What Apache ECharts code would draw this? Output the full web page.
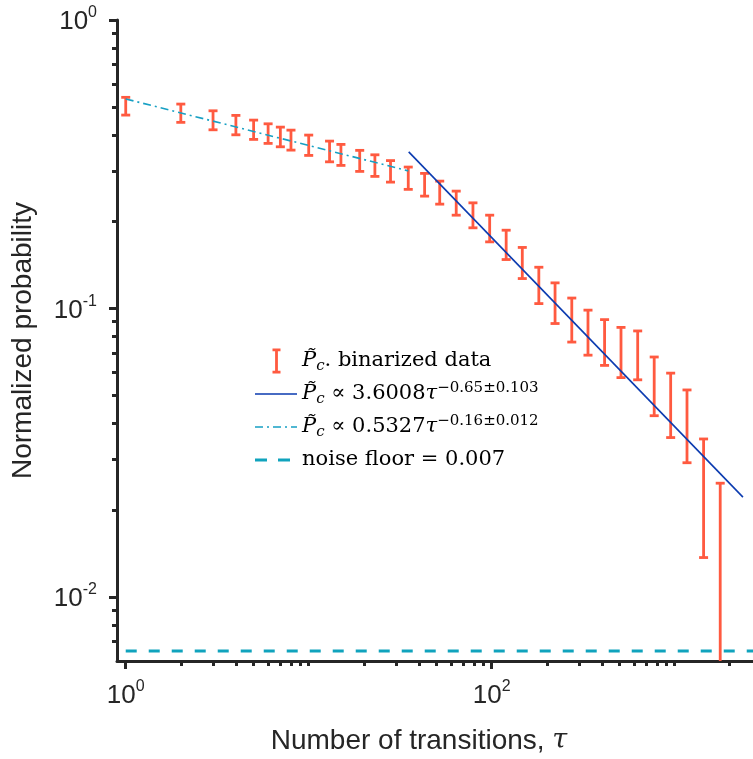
<!DOCTYPE html>
<html>
<head>
<meta charset="utf-8">
<script src="https://cdn.jsdelivr.net/npm/echarts@6/dist/echarts.min.js"></script>
<style>
html, body { margin: 0; padding: 0; background: #fff; }
#chart1 { width: 753px; height: 759px; }
</style>
</head>
<body>
<div id="chart1"></div>
<script>
/* 对数坐标误差棒图 */

// binarized data: tau, value, half error bar
var tau = [1, 2, 3, 4, 5, 6, 7, 8, 10, 13, 15, 19, 23, 28, 35, 43, 52, 64, 79, 97.5,
    120, 147, 181, 222, 274, 336, 414, 509, 628, 773, 951, 1168, 1439, 1774];
var probValue = [0.5038, 0.4765, 0.4504, 0.4335, 0.4177, 0.4051, 0.3944, 0.3846, 0.3692, 0.3514,
    0.3419, 0.3260, 0.3140, 0.2999, 0.2840, 0.2696, 0.2532, 0.2329, 0.2114, 0.1904,
    0.1673, 0.1449, 0.1215, 0.1057, 0.0926, 0.0838, 0.0775, 0.0718, 0.0701, 0.0552,
    0.0477, 0.0407, 0.0245, 0.0139];
var probErr = [0.0356, 0.0347, 0.0341, 0.0335, 0.0321, 0.0316, 0.0309, 0.0306, 0.0299, 0.0290,
    0.0286, 0.0273, 0.0270, 0.0257, 0.0252, 0.0244, 0.0232, 0.0223, 0.0210, 0.0202,
    0.0195, 0.0179, 0.0175, 0.0170, 0.0161, 0.0149, 0.0140, 0.0142, 0.0135, 0.0127,
    0.0120, 0.0115, 0.0108, 0.0109];

// fitted lines (end points) and noise floor
var fitSteep = [[35.2, 0.349], [2361, 0.0222]];
var fitFlat = [[1, 0.5327], [35, 0.300]];
var noiseFloor = [[1, 0.0065], [2680, 0.0065]];

var xMin = 0.896, xMax = 2680;
var yMin = 0.006, yMax = 1;
var xMajor = [1, 100];
var yMajor = [0.01, 0.1, 1];

var xMinor = [], yMinor = [];
for (var p = 0; p <= 3; p++) {
    for (var k = 1; k <= 9; k++) {
        var v = k * Math.pow(10, p);
        if (xMajor.indexOf(v) < 0 && v > xMin && v < xMax) xMinor.push(v);
    }
}
for (var q = -3; q < 0; q++) {
    for (var j = 2; j <= 9; j++) {
        var w = +(j * Math.pow(10, q)).toFixed(6);
        if (w > yMin && w < yMax) yMinor.push(w);
    }
}

var red = '#ff5a40';
var blue = '#0b3bb0';
var cyan = '#17a0c4';
var teal = '#10a3bd';
var axisColor = '#262626';
var sansFont = 'Liberation Sans';
var serifFont = 'DejaVu Serif';

var errData = [];
for (var i = 0; i < tau.length; i++) {
    errData.push([tau[i], probValue[i] - probErr[i], probValue[i] + probErr[i]]);
}

function powLabel(val) {
    var e = Math.round(Math.log(val) / Math.LN10);
    return '{b|10}{s|' + e + '}';
}
var powRich = {
    b: { fontFamily: sansFont, fontSize: 26, lineHeight: 30, verticalAlign: 'bottom', color: axisColor },
    s: { fontFamily: sansFont, fontSize: 16, lineHeight: 16, verticalAlign: 'top', color: axisColor }
};

// legend icons, 42x26 box (corner dots keep the box size)
var box = 'M0,0h0.1v0.1h-0.1z M42,26h-0.1v-0.1h0.1z ';
var iconErr = 'path://' + box + 'M17.5,0.5h8v2.8h-2.6v19.4h2.6v2.8h-8v-2.8h2.6v-19.4h-2.6z';
var iconSolid = 'path://' + box + 'M0,12.2h42v1.6h-42z';
var iconDashDot = 'path://' + box + 'M0,12.2h8v1.6h-8z M12,12.2h2v1.6h-2z M18,12.2h8v1.6h-8z M30,12.2h2v1.6h-2z M36,12.2h6v1.6h-6z';
var iconDash = 'path://' + box + 'M0,11.5h12v3h-12z M23,11.5h12v3h-12z';

var legendNames = {
    'data': '{it|P\u0303}{sub|c}{n|. binarized data}',
    'fitSteep': '{it|P\u0303}{sub|c}{n| \u221d 3.6008}{it|\u03c4}{sup|\u22120.65\u00b10.103}',
    'fitFlat': '{it|P\u0303}{sub|c}{n| \u221d 0.5327}{it|\u03c4}{sup|\u22120.16\u00b10.012}',
    'noise': '{n|noise floor = 0.007}'
};

var chart = echarts.init(document.getElementById('chart1'));

var option = {
    animation: false,
    backgroundColor: '#fff',
    grid: { left: 117, right: 0, top: 20, bottom: 98, containLabel: false, outerBoundsMode: 'none' },
    legend: {
        orient: 'vertical',
        left: 250,
        top: 343,
        itemWidth: 42,
        itemHeight: 26,
        itemGap: 7,
        selectedMode: false,
        data: [
            { name: 'data', icon: iconErr, itemStyle: { color: red } },
            { name: 'fitSteep', icon: iconSolid, itemStyle: { color: blue } },
            { name: 'fitFlat', icon: iconDashDot, itemStyle: { color: cyan } },
            { name: 'noise', icon: iconDash, itemStyle: { color: teal } }
        ],
        formatter: function (name) { return legendNames[name]; },
        textStyle: {
            fontFamily: serifFont, fontSize: 21, color: '#000',
            rich: {
                n: { fontFamily: serifFont, fontSize: 21, lineHeight: 26, color: '#000' },
                it: { fontFamily: serifFont, fontStyle: 'italic', fontSize: 21, lineHeight: 26, color: '#000' },
                sub: { fontFamily: serifFont, fontStyle: 'italic', fontSize: 15, lineHeight: 14, verticalAlign: 'bottom', color: '#000' },
                sup: { fontFamily: serifFont, fontSize: 15, lineHeight: 14, verticalAlign: 'top', color: '#000' }
            }
        }
    },
    xAxis: [{
        type: 'log',
        min: xMin,
        max: xMax,
        position: 'bottom',
        name: 'Number of transitions, {t|\u03c4}',
        nameLocation: 'middle',
        nameGap: 66,
        nameTextStyle: {
            fontFamily: sansFont, fontSize: 28, color: axisColor,
            padding: [0, 32, 0, 0],
            rich: { t: { fontFamily: serifFont, fontStyle: 'italic', fontSize: 27, color: axisColor } }
        },
        axisLine: { show: true, lineStyle: { color: axisColor, width: 3 } },
        axisTick: { show: true, customValues: xMajor, length: 8, lineStyle: { color: axisColor, width: 3 } },
        axisLabel: { show: true, customValues: xMajor, margin: 18, formatter: powLabel, rich: powRich },
        splitLine: { show: false },
        minorTick: { show: false }
    }, {
        type: 'log',
        min: xMin,
        max: xMax,
        position: 'bottom',
        axisLine: { show: false },
        axisTick: { show: true, customValues: xMinor, length: 5, lineStyle: { color: axisColor, width: 3 } },
        axisLabel: { show: false },
        splitLine: { show: false }
    }],
    yAxis: [{
        type: 'log',
        min: yMin,
        max: yMax,
        position: 'left',
        name: 'Normalized probability',
        nameLocation: 'middle',
        nameGap: 80,
        nameTextStyle: { fontFamily: sansFont, fontSize: 28, color: axisColor },
        axisLine: { show: true, lineStyle: { color: axisColor, width: 3 } },
        axisTick: { show: true, customValues: yMajor, length: 8, lineStyle: { color: axisColor, width: 3 } },
        axisLabel: { show: true, customValues: yMajor, margin: 20, formatter: powLabel, rich: powRich },
        splitLine: { show: false },
        minorTick: { show: false }
    }, {
        type: 'log',
        min: yMin,
        max: yMax,
        position: 'left',
        axisLine: { show: false },
        axisTick: { show: true, customValues: yMinor, length: 5, lineStyle: { color: axisColor, width: 3 } },
        axisLabel: { show: false },
        splitLine: { show: false }
    }],
    series: [{
        name: 'data',
        type: 'custom',
        xAxisIndex: 0,
        yAxisIndex: 0,
        itemStyle: { color: red },
        encode: { x: 0, y: [1, 2] },
        data: errData,
        z: 3,
        renderItem: function (params, api) {
            var x = api.value(0), lo = api.value(1), hi = api.value(2);
            var top = api.coord([x, hi]);
            var cs = params.coordSys;
            var hasLo = lo > yMin;
            var botY = hasLo ? api.coord([x, lo])[1] : cs.y + cs.height;
            var st = { stroke: red, lineWidth: 2.8 };
            var kids = [
                { type: 'line', shape: { x1: top[0], y1: top[1], x2: top[0], y2: botY }, style: st },
                { type: 'line', shape: { x1: top[0] - 4.5, y1: top[1], x2: top[0] + 4.5, y2: top[1] }, style: st }
            ];
            if (hasLo) {
                kids.push({ type: 'line', shape: { x1: top[0] - 4.5, y1: botY, x2: top[0] + 4.5, y2: botY }, style: st });
            }
            return { type: 'group', children: kids };
        }
    }, {
        name: 'fitSteep',
        type: 'line',
        data: fitSteep,
        symbol: 'none',
        z: 4,
        lineStyle: { color: blue, width: 1.6 },
        itemStyle: { color: blue }
    }, {
        name: 'fitFlat',
        type: 'line',
        data: fitFlat,
        symbol: 'none',
        z: 4,
        lineStyle: { color: cyan, width: 1.6, type: [8, 4, 2, 4] },
        itemStyle: { color: cyan }
    }, {
        name: 'noise',
        type: 'line',
        data: noiseFloor,
        symbol: 'none',
        z: 2,
        lineStyle: { color: teal, width: 3, type: [11, 12] },
        itemStyle: { color: teal }
    }]
};

chart.setOption(option);
</script>
</body>
</html>
